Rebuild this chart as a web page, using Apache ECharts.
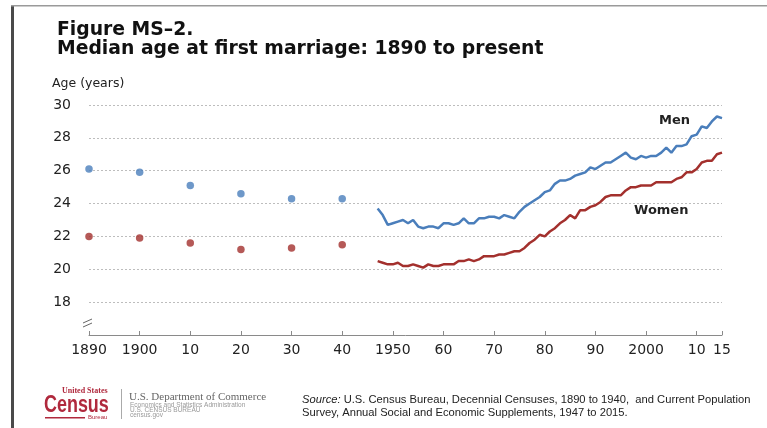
<!DOCTYPE html>
<html>
<head>
<meta charset="utf-8">
<script src="https://cdn.jsdelivr.net/npm/echarts@6/dist/echarts.min.js"></script>
<style>
  html, body { margin: 0; padding: 0; background: #fff; }
  #chart { width: 767px; height: 428px; }
</style>
</head>
<body>
<div id="chart"></div>
<script>
// decennial census points
const censusYears = [1890, 1900, 1910, 1920, 1930, 1940];
const menCensus = [26.1, 25.9, 25.1, 24.6, 24.3, 24.3];
const womenCensus = [22.0, 21.9, 21.6, 21.2, 21.3, 21.5];

// annual CPS values, 1947..2015
const cpsStartYear = 1947;
const menCps = [
  23.7, 23.3, 22.7, 22.8, 22.9, 23.0, 22.8, 23.0, 22.6, 22.5,
  22.6, 22.6, 22.5, 22.8, 22.8, 22.7, 22.8, 23.1, 22.8, 22.8,
  23.1, 23.1, 23.2, 23.2, 23.1, 23.3, 23.2, 23.1, 23.5, 23.8,
  24.0, 24.2, 24.4, 24.7, 24.8, 25.2, 25.4, 25.4, 25.5, 25.7,
  25.8, 25.9, 26.2, 26.1, 26.3, 26.5, 26.5, 26.7, 26.9, 27.1,
  26.8, 26.7, 26.9, 26.8, 26.9, 26.9, 27.1, 27.4, 27.1, 27.5,
  27.5, 27.6, 28.1, 28.2, 28.7, 28.6, 29.0, 29.3, 29.2
];
const womenCps = [
  20.5, 20.4, 20.3, 20.3, 20.4, 20.2, 20.2, 20.3, 20.2, 20.1,
  20.3, 20.2, 20.2, 20.3, 20.3, 20.3, 20.5, 20.5, 20.6, 20.5,
  20.6, 20.8, 20.8, 20.8, 20.9, 20.9, 21.0, 21.1, 21.1, 21.3,
  21.6, 21.8, 22.1, 22.0, 22.3, 22.5, 22.8, 23.0, 23.3, 23.1,
  23.6, 23.6, 23.8, 23.9, 24.1, 24.4, 24.5, 24.5, 24.5, 24.8,
  25.0, 25.0, 25.1, 25.1, 25.1, 25.3, 25.3, 25.3, 25.3, 25.5,
  25.6, 25.9, 25.9, 26.1, 26.5, 26.6, 26.6, 27.0, 27.1
];

// axis ticks
const xTickValues = [1890, 1900, 1910, 1920, 1930, 1940, 1950, 1960, 1970, 1980, 1990, 2000, 2010, 2015];
const xFullLabels = [1890, 1900, 1950, 2000];

const menColor = "#4a7ebb";
const womenColor = "#a3302d";
const logoRed = "#b0293d";
const font = "DejaVu Sans";

const pairs = (xs, ys) => ys.map((v, i) => [xs[i], v]);
const cpsPairs = (ys) => ys.map((v, i) => [cpsStartYear + i, v]);

let chartDom = document.getElementById("chart");
let myChart = echarts.init(chartDom);

let chartOption = {
  animation: false,
  backgroundColor: "#fff",
  grid: { left: 89, right: 45, top: 105, bottom: 93 },
  xAxis: {
    type: "value",
    min: 1890,
    max: 2015,
    axisLine: { lineStyle: { color: "#8a8a8a", width: 1 } },
    axisTick: {
      inside: true,
      length: 4,
      customValues: xTickValues,
      lineStyle: { color: "#8a8a8a" },
    },
    axisLabel: {
      customValues: xTickValues,
      margin: 8,
      fontFamily: font,
      fontSize: 14,
      color: "#222",
      formatter: (v) =>
        xFullLabels.includes(v) ? String(v) : String(v).slice(2),
    },
    splitLine: { show: false },
  },
  yAxis: {
    type: "value",
    min: 16,
    max: 30,
    interval: 2,
    axisLine: { show: false },
    axisTick: { show: false },
    axisLabel: {
      margin: 18,
      fontFamily: font,
      fontSize: 14,
      color: "#222",
      formatter: (v) => (v === 16 ? "" : String(v)),
    },
    splitLine: {
      show: true,
      showMinLine: false,
      lineStyle: { color: "#bdbdbd", type: [2, 2], width: 1 },
    },
  },
  series: [
    {
      name: "Men census",
      type: "scatter",
      data: pairs(censusYears, menCensus),
      symbolSize: 7.5,
      itemStyle: { color: menColor },
    },
    {
      name: "Women census",
      type: "scatter",
      data: pairs(censusYears, womenCensus),
      symbolSize: 7.5,
      itemStyle: { color: womenColor },
    },
    {
      name: "Men",
      type: "line",
      data: cpsPairs(menCps),
      showSymbol: false,
      lineStyle: { color: menColor, width: 2.5 },
    },
    {
      name: "Women",
      type: "line",
      data: cpsPairs(womenCps),
      showSymbol: false,
      lineStyle: { color: womenColor, width: 2.5 },
    },
  ],
  graphic: [
    // frame
    { type: "rect", shape: { x: 11, y: 5, width: 3, height: 423 }, style: { fill: "#4a4a4a" } },
    { type: "rect", shape: { x: 11, y: 5, width: 756, height: 1.5 }, style: { fill: "#9a9a9a" } },
    // title
    {
      type: "text", left: 57, top: 21,
      style: { text: "Figure MS\u20132.", font: "bold 18.8px 'DejaVu Sans'", fill: "#111" },
    },
    {
      type: "text", left: 57, top: 40,
      style: { text: "Median age at first marriage: 1890 to present", font: "bold 18.8px 'DejaVu Sans'", fill: "#111" },
    },
    {
      type: "text", left: 52, top: 77,
      style: { text: "Age (years)", font: "12.5px 'DejaVu Sans'", fill: "#222" },
    },
    // axis break mark
    { type: "line", shape: { x1: 83, y1: 323, x2: 92, y2: 319 }, style: { stroke: "#666", lineWidth: 1 } },
    { type: "line", shape: { x1: 83, y1: 327, x2: 92, y2: 323 }, style: { stroke: "#666", lineWidth: 1 } },
    // series labels
    {
      type: "text", left: 659, top: 114,
      style: { text: "Men", font: "bold 13px 'DejaVu Sans'", fill: "#222" },
    },
    {
      type: "text", left: 634, top: 204,
      style: { text: "Women", font: "bold 13px 'DejaVu Sans'", fill: "#222" },
    },
    // census logo
    {
      type: "text", x: 62, y: 387,
      style: { text: "United States", font: "bold 8px 'Liberation Serif'", fill: logoRed },
    },
    {
      type: "text", x: 44, y: 394, scaleX: 0.78,
      style: { text: "Census", font: "bold 23px 'Liberation Sans'", fill: logoRed },
    },
    { type: "rect", shape: { x: 45, y: 417, width: 40, height: 1.5 }, style: { fill: logoRed } },
    {
      type: "text", x: 88, y: 414,
      style: { text: "Bureau", font: "6px 'Liberation Sans'", fill: logoRed },
    },
    { type: "rect", shape: { x: 121, y: 389, width: 1, height: 30 }, style: { fill: "#aaa" } },
    {
      type: "text", x: 129, y: 392,
      style: { text: "U.S. Department of Commerce", font: "11px 'Liberation Serif'", fill: "#666" },
    },
    {
      type: "text", x: 130, y: 403,
      style: {
        text: "Economics and Statistics Administration\nU.S. CENSUS BUREAU\ncensus.gov",
        font: "6.5px 'Liberation Sans'", fill: "#999", lineHeight: 5,
      },
    },
    // source note
    {
      type: "text", x: 302, y: 393,
      style: {
        text: "{i|Source:} U.S. Census Bureau, Decennial Censuses, 1890 to 1940,  and Current Population\nSurvey, Annual Social and Economic Supplements, 1947 to 2015.",
        font: "11.2px 'Liberation Sans'", fill: "#222", lineHeight: 13,
        rich: { i: { fontStyle: "italic", fontSize: 11.2, fontFamily: "Liberation Sans", fill: "#222" } },
      },
    },
  ],
};

myChart.setOption(chartOption);
window.onresize = () => {
  myChart.resize();
};
</script>
</body>
</html>
